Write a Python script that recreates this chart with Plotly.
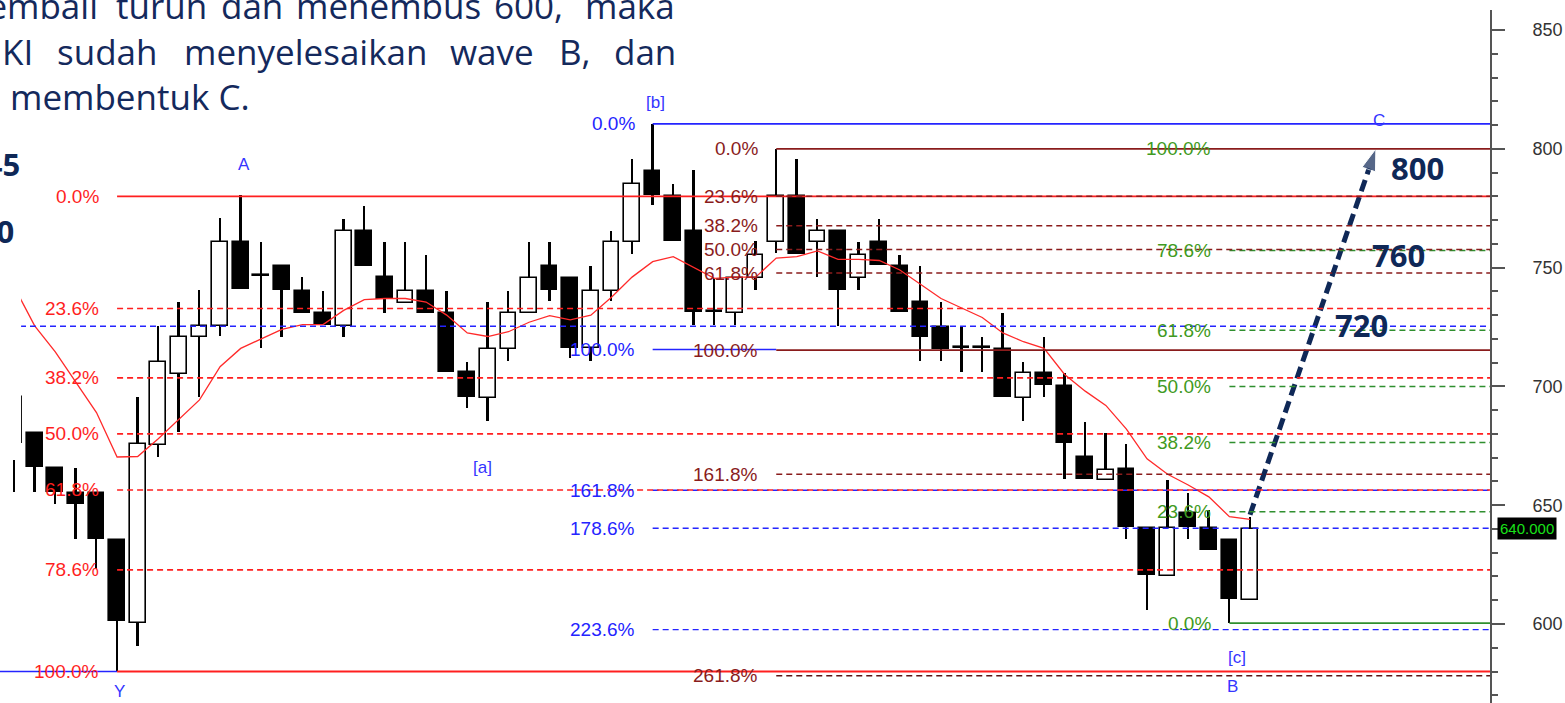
import plotly.graph_objects as go

# ---------------- data ----------------
idx = list(range(-1, 60))
opens = [676, 680.4, 665.7, 655.1, 655.1, 635.4, 600.4, 675.3, 705.2, 720.6, 725.3,
         760.6, 746.5, 750.7, 740.3, 731, 725.4, 765.4, 745.9, 735.3, 740.3,
         731, 706, 695, 715.6, 730.7, 750.7, 745.8, 716, 740.2, 760.7,
         790.8, 780.1, 765.5, 731.2, 730.7, 745.5, 760.7, 780.1, 760.6, 765.5,
         745.5, 760.8, 750.7, 735.7, 725.1, 716.3, 716.3, 715.9, 695.3, 705.8,
         700.2, 670.1, 660.6, 665.2, 640.3, 620, 646.6, 640.3, 635.4, 610.1]
highs = [700, 680.4, 665.7, 665.7, 655.1, 635.4, 695.5, 725.3, 735.5, 740.6, 770.7,
         780.4, 760.9, 750.7, 746.2, 740.3, 770.3, 775.9, 760.9, 760.9, 755.3,
         740.3, 710.4, 735.7, 740.3, 760.9, 760.9, 745.8, 750.7, 765.4, 795.6,
         810.5, 785, 791, 745.5, 745.5, 761, 800, 795.6, 770.3, 765.5,
         760.8, 770.3, 755.2, 750.7, 735.7, 725.1, 720.7, 731, 710.4, 721,
         705.5, 685.2, 680.2, 675.8, 640.3, 660.6, 655.3, 648, 635.4, 645.2]
lows = [655.6, 655.6, 650.7, 635.8, 623.3, 580.2, 590.7, 670.3, 680.8, 695.5, 721.2,
        741, 716.2, 721, 731, 725.8, 721, 750.7, 731, 735.3, 731,
        706, 691, 685.4, 710.8, 730.7, 736, 712, 710.8, 736, 755.7,
        776.3, 761.2, 725.8, 725.8, 725.8, 740.6, 756, 755.7, 746.2, 725.4,
        740.6, 751.1, 731.3, 710.8, 710.8, 706.2, 706.2, 695.7, 685.6, 695.7,
        661, 661, 660.6, 635.8, 606, 620, 635.8, 631.1, 600.5, 610.1]
closes = [695.5, 665.9, 655.6, 650.7, 635.8, 601.1, 675.8, 710.3, 720.6, 725.3, 760.6,
          741, 746.9, 740.6, 731, 725.8, 765.4, 750.7, 736.6, 740.3, 731,
          706, 695.7, 715.7, 730.7, 745.8, 740.6, 716.3, 740.2, 760.7, 785,
          780.6, 761.2, 731.4, 731.6, 745.5, 755.3, 780.1, 755.7, 765.5, 740.6,
          755.2, 751.1, 731.3, 721, 715.9, 716.7, 716.7, 695.7, 705.5, 700.6,
          676, 661, 665, 640.7, 620.6, 640.3, 640.7, 631.1, 610.5, 640]
ma_line = [742, 725.5, 714.5, 702, 689, 670.3, 670.5, 678, 686, 694.3, 708.3,
           716, 720, 724, 726, 726, 732, 736.5, 737, 737, 735.5,
           730, 722.5, 721, 723, 727, 729.8, 728, 730, 737.5, 746,
           752.5, 754.6, 750, 745.5, 746, 746, 754, 754.6, 757, 753.5,
           753.5, 753, 749, 743, 737, 733, 729, 722.5, 718.8, 716,
           705, 698, 692, 682, 669.5, 663, 658.5, 653.5, 645.2, 644]

# Fibonacci levels (value, label)
red_levels = [780, 732.8, 703.6, 680, 656.4, 622.8, 580]
red_labels = ["0.0%", "23.6%", "38.2%", "50.0%", "61.8%", "78.6%", "100.0%"]
red_start = 4
blue_levels = [810.5, 715.5, 656.3, 640.3, 597.6]
blue_labels = ["0.0%", "100.0%", "161.8%", "178.6%", "223.6%"]
blue_start = 30
brown_levels = [800, 780, 767.6, 757.6, 747.7, 715.3, 663, 578.2]
brown_labels = ["0.0%", "23.6%", "38.2%", "50.0%", "61.8%", "100.0%", "161.8%", "261.8%"]
brown_start = 36
green_levels = [800, 757.2, 723.6, 700, 676.4, 647.2, 600.4]
green_labels = ["100.0%", "78.6%", "61.8%", "50.0%", "38.2%", "23.6%", "0.0%"]
green_start = 58
blue_hline = 725.3
last_price = 640

waves = ["A", "[b]", "[a]", "Y", "C", "[c]", "B"]
wave_x = [10.17, 30.16, 21.76, 4.14, 65.27, 58.35, 58.17]
wave_y = [793.2, 819.7, 665.7, 571.4, 812.1, 585.7, 573.6]

targets = ["800", "760", "720"]
target_x = [67.15, 66.23, 64.43]
target_y = [791.9, 755.5, 726.0]

arrow_x = [59, 65.11]
arrow_y = [646, 800]

yticks = [600, 650, 700, 750, 800, 850]

# ---------------- layout geometry ----------------
W, H = 1565, 703
ML, MR, MT, MB = 0, 75, 10, 0
PW, PH = W - ML - MR, H - MT - MB
XMIN, XMAX = -1.684, 70.65
YMIN, YMAX = 566.75, 858.42

RED = "#ff1f1f"
BLUE = "#2424ff"
BROWN = "#8a1c1c"
GREEN_LINE = "#2f8f2f"
GREEN_TXT = "#3f9a22"
NAVY = "#0f2857"
LBL_FONT = "Liberation Sans"


def px_x(px):
    return (px - ML) / PW


def px_y(py):
    return (H - MB - py) / PH


fig = go.Figure()

# wicks (thin bars so bodies can sit on top)
fig.add_trace(go.Bar(x=idx, y=[h - l for h, l in zip(highs, lows)], base=lows,
                     width=0.09, marker=dict(color="black", line=dict(width=0)),
                     hoverinfo="skip", showlegend=False))
# bodies
up_x = [i for i, o, c in zip(idx, opens, closes) if c >= o]
up_b = [o for o, c in zip(opens, closes) if c >= o]
up_h = [c - o for o, c in zip(opens, closes) if c >= o]
dn_x = [i for i, o, c in zip(idx, opens, closes) if c < o]
dn_b = [c for o, c in zip(opens, closes) if c < o]
dn_h = [o - c for o, c in zip(opens, closes) if c < o]
fig.add_trace(go.Bar(x=up_x, y=up_h, base=up_b, width=0.76,
                     marker=dict(color="white", line=dict(color="black", width=1.6)),
                     showlegend=False))
fig.add_trace(go.Bar(x=dn_x, y=dn_h, base=dn_b, width=0.76,
                     marker=dict(color="black", line=dict(color="black", width=1.6)),
                     showlegend=False))
# moving average
fig.add_trace(go.Scatter(x=idx, y=ma_line, mode="lines",
                         line=dict(color="#ff2a2a", width=1.3), showlegend=False))


def hseg(x0, x1, y, color, dash="solid", width=1.5):
    fig.add_shape(type="line", x0=x0, x1=x1, y0=y, y1=y, xref="x", yref="y",
                  line=dict(color=color, width=width, dash=dash), layer="above")


def flabel(x, y, text, color):
    fig.add_annotation(x=x, y=y, xref="x", yref="y", text=text, showarrow=False,
                       xanchor="right", yanchor="middle", xshift=-16,
                       font=dict(family=LBL_FONT, size=19, color=color))


DASH = "6px,4px"

# blue horizontal dashed line and blue left segment
hseg(XMIN, XMAX, blue_hline, BLUE, DASH, 1.5)
hseg(XMIN, red_start, red_levels[-1], BLUE, "solid", 1.6)

# blue fib
for i, (lv, lb) in enumerate(zip(blue_levels, blue_labels)):
    if i == 0:
        hseg(blue_start, XMAX, lv, BLUE, "solid", 1.6)
    elif i == 1:
        hseg(blue_start, brown_start, lv, BLUE, "solid", 1.6)
    else:
        hseg(blue_start, XMAX, lv, BLUE, DASH, 1.3)
    flabel(blue_start, lv, lb, BLUE)

# red fib
for i, (lv, lb) in enumerate(zip(red_levels, red_labels)):
    solid = i in (0, len(red_levels) - 1)
    hseg(red_start, XMAX, lv, RED, "solid" if solid else DASH, 1.8 if solid else 1.6)
    flabel(red_start, lv, lb, RED)

# green fib
for i, (lv, lb) in enumerate(zip(green_levels, green_labels)):
    if i == len(green_levels) - 1:
        hseg(green_start, XMAX, lv, GREEN_LINE, "solid", 1.8)
    elif i > 0:
        hseg(green_start, XMAX, lv, GREEN_LINE, DASH, 1.5)
    flabel(green_start, lv, lb, GREEN_TXT)

# brown fib
for i, (lv, lb) in enumerate(zip(brown_levels, brown_labels)):
    solid = lb in ("0.0%", "100.0%")
    col = BROWN if lb != "261.8%" else "#5a1515"
    hseg(brown_start, XMAX, lv, col, "solid" if solid else DASH, 1.8 if solid else 1.5)
    flabel(brown_start, lv, lb, BROWN)

# white box of the slide text (left edge)
fig.add_shape(type="rect", x0=XMIN, x1=-0.66, y0=669, y1=YMAX, xref="x", yref="y",
              fillcolor="white", line=dict(width=0), layer="above")

# wave labels
for t, x, y in zip(waves, wave_x, wave_y):
    fig.add_annotation(x=x, y=y, text=t, showarrow=False, xanchor="center",
                       yanchor="middle", font=dict(family=LBL_FONT, size=17, color="#3535ff"))

# projection arrow
fig.add_trace(go.Scatter(x=arrow_x, y=arrow_y, mode="lines+markers",
                         line=dict(color=NAVY, width=5, dash="12px,6px"),
                         marker=dict(symbol=["circle", "arrow"], size=[0, 23],
                                     angleref="previous", color=NAVY),
                         showlegend=False, hoverinfo="skip"))

# target numbers
for t, x, y in zip(targets, target_x, target_y):
    fig.add_annotation(x=x, y=y, text="<b>" + t + "</b>", showarrow=False,
                       xanchor="center", yanchor="middle",
                       font=dict(family="Open Sans", size=31, color=NAVY))

# cut-off bold numbers at the left edge
for t, xr, yc in [("845", 22, 164), ("800", 16, 231)]:
    fig.add_annotation(x=px_x(xr), y=px_y(yc), xref="paper", yref="paper", text="<b>" + t + "</b>",
                       showarrow=False, xanchor="right", yanchor="middle",
                       font=dict(family="Open Sans", size=31, color=NAVY))

# last price box
fig.add_annotation(x=1, y=last_price, xref="paper", yref="y", text="640.000",
                   showarrow=False, xanchor="left", yanchor="middle", xshift=7,
                   bgcolor="black", borderpad=2,
                   font=dict(family=LBL_FONT, size=15, color="#19e019"))

# slide text (justified lines, one word at a time); (word, x edge, anchor)
text_lines = [
    ([("kembali", 100, "right"), ("turun", 114, "left"), ("dan", 219, "left"),
      ("menembus", 294, "left"), ("600,", 492, "left"), ("maka", 583, "left")], 6),
    ([("KI", 35, "right"), ("sudah", 55, "left"), ("menyelesaikan", 182, "left"),
      ("wave", 448, "left"), ("B,", 557, "left"), ("dan", 612, "left")], 52),
    ([("membentuk C.", 8, "left")], 96),
]
for words, yc in text_lines:
    for w, x, anc in words:
        fig.add_annotation(x=px_x(x), y=px_y(yc), xref="paper", yref="paper", text=w,
                           showarrow=False, xanchor=anc, yanchor="middle",
                           font=dict(family="Open Sans", size=35, color="#14295c"))

fig.update_layout(
    width=W, height=H, margin=dict(l=ML, r=MR, t=MT, b=MB),
    paper_bgcolor="white", plot_bgcolor="white", barmode="overlay", bargap=0,
    showlegend=False,
    xaxis=dict(range=[XMIN, XMAX], visible=False, showgrid=False, zeroline=False),
    yaxis=dict(range=[YMIN, YMAX], side="right", tickvals=yticks, showgrid=False,
               zeroline=False, showline=True, linecolor="#555", linewidth=2,
               ticks="outside", ticklen=13, tickwidth=2, tickcolor="#555",
               ticklabelstandoff=24,
               tickfont=dict(family=LBL_FONT, size=18, color="#333"),
               minor=dict(dtick=10, tick0=600, ticks="outside", ticklen=6,
                          tickwidth=1.5, tickcolor="#555", showgrid=False)),
)

fig.write_html("out.html", config={"displayModeBar": False},
               post_script="document.body.style.margin='0px';"
                           "document.body.style.overflow='hidden';")
